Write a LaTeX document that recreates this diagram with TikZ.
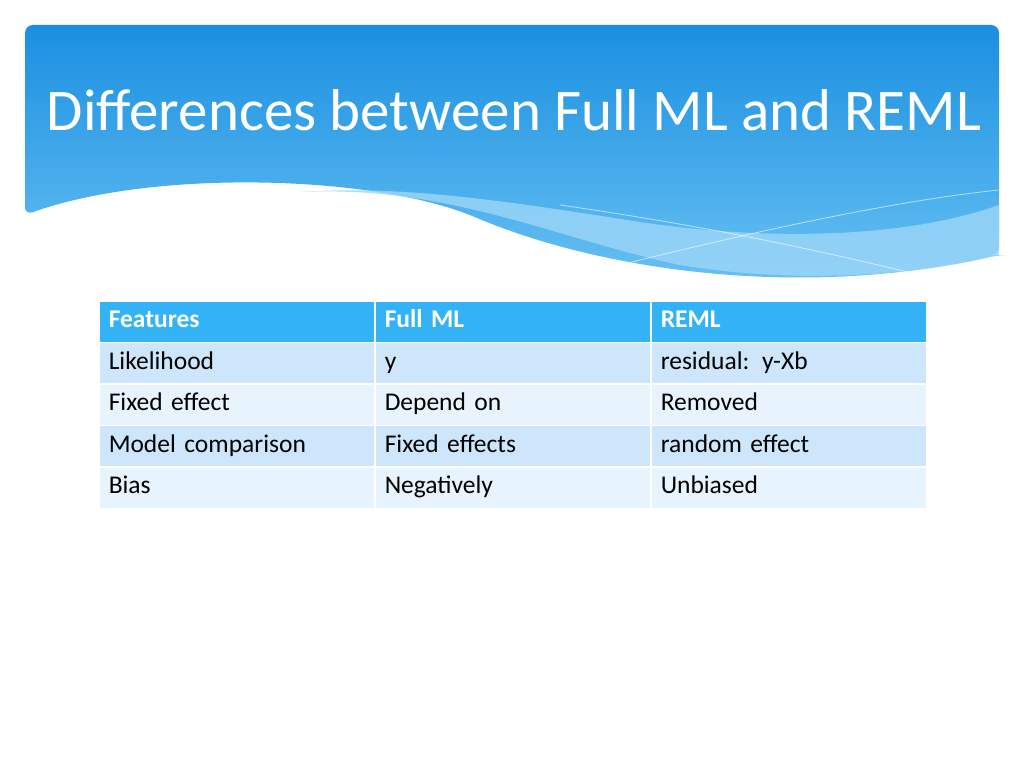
\documentclass[tikz,border=0pt]{standalone}
\usepackage{fontspec}
\setmainfont{Carlito}
\usetikzlibrary{positioning}
\definecolor{bannertop}{HTML}{1A8FE0}
\definecolor{bannerbot}{HTML}{6CC4F4}
\definecolor{headfill}{HTML}{33B3F5}
\definecolor{rowdark}{HTML}{CDE6FB}
\definecolor{rowlight}{HTML}{E7F3FD}
\definecolor{wavelight}{HTML}{9DD6F8}
\begin{document}
\begin{tikzpicture}[%
        x = 1pt, y = -1pt,
        cell/.style = {draw = white, line width = 1.5pt, minimum width = 276pt,
            minimum height = 41.5pt, inner sep = 10pt, anchor = north west,
            text width = 256pt, align = left, text height = 17pt, text depth = 5pt,
            inner ysep = 9.75pt, font = \fontsize{25.5}{28}\selectfont},
        headcell/.style = {cell, fill = headfill, text = white, font = \fontsize{25.5}{28}\selectfont\bfseries}
    ]

        % Page and margins.
        \useasboundingbox (0, 0) rectangle (1024, 768);
        \fill[white] (0, 0) rectangle (1024, 768);

        % Title banner with its wavy lower edge.
        \shade[top color = bannertop, bottom color = bannerbot, rounded corners = 8pt]
            (25, 215) -- (25, 25) -- (999, 25) -- (999, 255) -- (998, 255)
            .. controls (800, 300) and (600, 270) .. (470, 215)
            .. controls (360, 175) and (150, 170) .. (25, 215) -- cycle;
        \fill[wavelight, opacity = 0.8]
            (300, 192) .. controls (450, 185) and (560, 240) .. (680, 265)
            .. controls (800, 285) and (920, 275) .. (999, 255) -- (999, 205)
            .. controls (900, 240) and (760, 240) .. (640, 222)
            .. controls (500, 200) and (400, 185) .. (300, 192) -- cycle;
        \draw[white, opacity = 0.6, line width = 0.8pt]
            (620, 265) .. controls (760, 230) and (900, 200) .. (999, 190);
        \draw[white, opacity = 0.6, line width = 0.8pt]
            (560, 205) .. controls (700, 225) and (820, 250) .. (940, 280);
        \node[text = white, font = \fontsize{59}{64}\selectfont] (title) at (514, 110)
            {Differences between Full ML and REML};

        % Table cells.
        \node[headcell] (h1) at (98, 300) {Features};
        \node[headcell] (h2) at (374, 300) {Full ML};
        \node[headcell] (h3) at (650, 300) {REML};

        \foreach \row/\fillc/\a/\b/\c in {
            1/rowdark/Likelihood/y/{residual: y-Xb},
            2/rowlight/Fixed effect/Depend on/Removed,
            3/rowdark/Model comparison/Fixed effects/random effect,
            4/rowlight/Bias/Negatively/Unbiased} {
            \node[cell, fill = \fillc] (r\row c1) at (98, 300 + 41.5*\row) {\a};
            \node[cell, fill = \fillc] (r\row c2) at (374, 300 + 41.5*\row) {\b};
            \node[cell, fill = \fillc] (r\row c3) at (650, 300 + 41.5*\row) {\c};
        }
    \end{tikzpicture}
\end{document}
